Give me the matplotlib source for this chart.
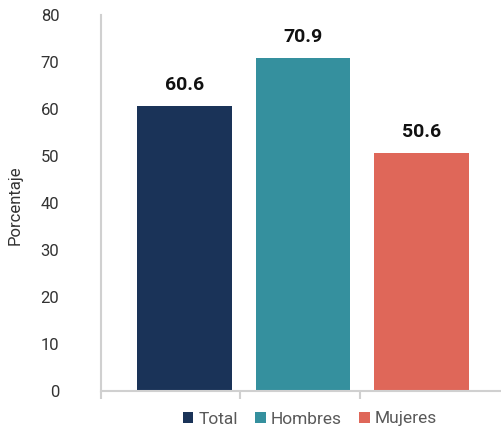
import matplotlib
matplotlib.use("Agg")
import matplotlib.pyplot as plt
from matplotlib.patches import Patch

categories = ["Total", "Hombres", "Mujeres"]
values = [60.6, 70.9, 50.6]
colors = ["#1a3358", "#35909e", "#df6759"]
yticks = [0, 10, 20, 30, 40, 50, 60, 70, 80]

plt.rcParams['font.family'] = ['Roboto', 'DejaVu Sans']

W, H = 502, 432
fig = plt.figure(figsize=(W / 100, H / 100), dpi=100)
ax = fig.add_axes([101 / W, 1 - 391 / H, (502 - 101) / W, (391 - 15) / H])

x = list(range(len(categories)))
ax.bar(x, values, width=0.8, color=colors, zorder=2)
for xi, v in zip(x, values):
    ax.text(xi, v + 2.6, f"{v:.1f}", ha="center", va="bottom",
            fontsize=14, fontweight="bold", color="#111111")

ax.set_xlim(-0.705, 2.68)
ax.set_ylim(0, 80)
ax.set_yticks(yticks)
ax.set_yticklabels([str(t) for t in yticks], fontsize=12, color="#333333")
ax.tick_params(axis="y", length=0, pad=30)
ax.set_xticks([])
ax.set_xticks([-0.705, 0.468, 1.48], minor=True)
ax.tick_params(axis="x", which="minor", length=6, width=1.5, color="#d0d0d0")

for s in ["top", "right"]:
    ax.spines[s].set_visible(False)
for s in ["left", "bottom"]:
    ax.spines[s].set_color("#d0d0d0")
    ax.spines[s].set_linewidth(1.5)

fig.text(15 / W, 1 - 205 / H, "Porcentaje", rotation=90, ha="center", va="center",
         fontsize=12, color="#333333")

handles = [Patch(facecolor=c, edgecolor="none") for c in colors]
fig.legend(handles, categories, loc="center", bbox_to_anchor=(310 / W, 1 - 419 / H),
           ncol=3, frameon=False, fontsize=12.5, handlelength=0.6, handleheight=0.6,
           handletextpad=0.3, columnspacing=1.0, labelcolor="#595959")

fig.savefig("out.png", dpi=100)
